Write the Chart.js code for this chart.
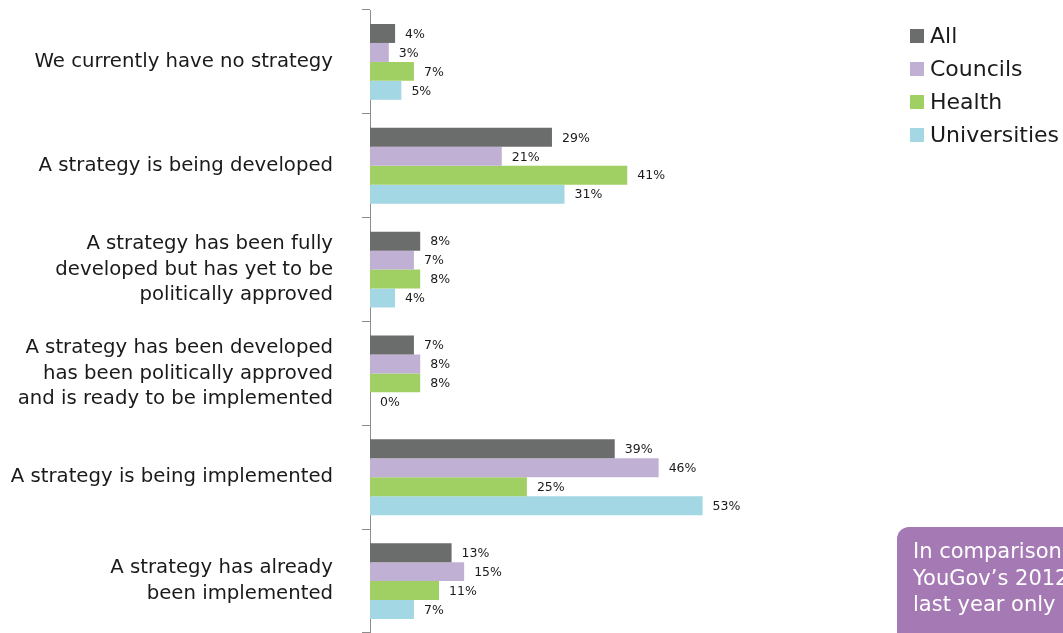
<!DOCTYPE html>
<html>
<head>
<meta charset="utf-8">
<script src="https://cdn.jsdelivr.net/npm/chart.js@4"></script>
<style>
  html, body { margin: 0; padding: 0; background: #fff; overflow: hidden; }
  #wrap { position: relative; width: 1063px; height: 633px; }
  #legend { position: absolute; left: 910px; top: 19px; font-family: "DejaVu Sans", sans-serif; font-size: 22px; color: #1a1a1a; white-space: nowrap; }
  #legend div { height: 33px; line-height: 33px; }
  #legend span { display: inline-block; width: 14px; height: 14px; margin-right: 6px; }
  #note { position: absolute; left: 897px; top: 527px; width: 220px; height: 130px; background: #a57ab4; border-radius: 12px; color: #fff; font-family: "DejaVu Sans", sans-serif; font-size: 21px; line-height: 26.5px; padding: 11px 0 0 16px; box-sizing: border-box; white-space: nowrap; }
</style>
</head>
<body>
<div id="wrap">
  <canvas id="myChart" width="1063" height="633"></canvas>
  <div id="legend"></div>
  <div id="note">In comparison to<br>YouGov’s 2012 survey,<br>last year only</div>
</div>
<script>
let categories = [
    'We currently have no strategy',
    'A strategy is being developed',
    ['A strategy has been fully', 'developed but has yet to be', 'politically approved'],
    ['A strategy has been developed', 'has been politically approved', 'and is ready to be implemented'],
    'A strategy is being implemented',
    ['A strategy has already', 'been implemented']
];
let allValues = [4, 29, 8, 7, 39, 13];
let councilsValues = [3, 21, 7, 8, 46, 15];
let healthValues = [7, 41, 8, 8, 25, 11];
let universitiesValues = [5, 31, 4, 0, 53, 7];

const seriesNames = ['All', 'Councils', 'Health', 'Universities'];
const seriesColors = ['#6b6d6c', '#c0b1d4', '#a0cf63', '#a3d7e4'];
const seriesValues = [allValues, councilsValues, healthValues, universitiesValues];

// labels at end of each bar
const valueLabels = {
    id: 'valueLabels',
    afterDatasetsDraw(chart) {
        const ctx = chart.ctx;
        ctx.save();
        ctx.font = '12.5px "DejaVu Sans", sans-serif';
        ctx.fillStyle = '#1a1a1a';
        ctx.textBaseline = 'middle';
        ctx.textAlign = 'left';
        chart.data.datasets.forEach((ds, i) => {
            chart.getDatasetMeta(i).data.forEach((bar, j) => {
                ctx.fillText(ds.data[j] + '%', bar.x + 10, bar.y + 1);
            });
        });
        ctx.restore();
    }
};

const data = {
    labels: categories,
    datasets: seriesNames.map((name, i) => ({
        label: name,
        data: seriesValues[i],
        backgroundColor: seriesColors[i],
        borderWidth: 0,
        categoryPercentage: 0.73,
        barPercentage: 1
    }))
};

const config = {
    type: 'bar',
    data: data,
    options: {
        indexAxis: 'y',
        responsive: false,
        animation: false,
        layout: { padding: { top: 10, right: 191, bottom: 0, left: 0 } },
        plugins: {
            legend: { display: false },
            tooltip: { enabled: false }
        },
        scales: {
            x: { display: false, min: 0, max: 80 },
            y: {
                afterFit(scale) {
                    scale.width = 370;
                    scale.paddingTop = 0;
                    scale.paddingBottom = 0;
                },
                grid: { drawOnChartArea: false, tickLength: 8, color: '#8c8c8c', offset: true },
                border: { color: '#8c8c8c', width: 1 },
                ticks: {
                    color: '#1a1a1a',
                    padding: 29,
                    font: { family: '"DejaVu Sans", sans-serif', size: 19.7, lineHeight: '25.5px' }
                }
            }
        }
    },
    plugins: [valueLabels]
};

const myChart = new Chart(document.getElementById('myChart').getContext('2d'), config);

const legend = document.getElementById('legend');
seriesNames.forEach((name, i) => {
    const row = document.createElement('div');
    row.innerHTML = '<span style="background:' + seriesColors[i] + '"></span>' + name;
    legend.appendChild(row);
});
</script>
</body>
</html>
